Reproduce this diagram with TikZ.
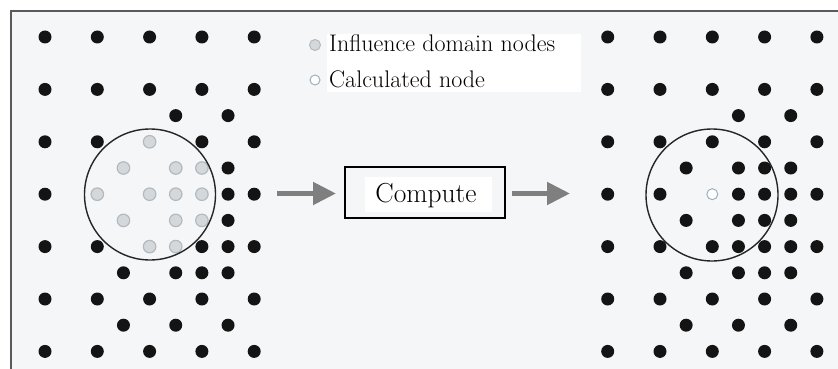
\documentclass[tikz,border=0pt]{standalone}
\usetikzlibrary{arrows.meta}
\definecolor{bgcol}{HTML}{F5F6F8}
\definecolor{framecol}{HTML}{5A5A5A}
\definecolor{dotblack}{HTML}{141414}
\definecolor{grayfill}{HTML}{D4D8DB}
\definecolor{grayedge}{HTML}{B2BAC0}
\definecolor{hollowedge}{HTML}{9DB1BE}
\definecolor{arrowcol}{HTML}{7F7F7F}
\tikzset{
  blackdot/.style={circle,fill=dotblack,draw=none,minimum size=13pt,inner sep=0pt},
  graydot/.style={circle,fill=grayfill,draw=grayedge,line width=1.2pt,minimum size=12.5pt,inner sep=0pt},
  hollowdot/.style={circle,fill=white,draw=hollowedge,line width=1pt,minimum size=11pt,inner sep=0pt},
  domaincircle/.style={circle,draw=black!85,line width=1.4pt,inner sep=0pt},
  flowarrow/.style={draw=arrowcol,line width=5pt,-{Triangle[length=23pt,width=22pt]}},
  computebox/.style={draw=black,line width=2.5pt,minimum width=160pt,minimum height=51pt,inner sep=0pt},
  legendtext/.style={anchor=base west,inner sep=0pt,font=\fontsize{24}{28}\selectfont}
}
\begin{document}
\begin{tikzpicture}[x=1pt,y=-1pt]
\useasboundingbox (0,0) rectangle (838,369);
\fill[white] (0,0) rectangle (838,369);
\fill[bgcol] (11,11) rectangle (838,369);
\draw[framecol,line width=1.8pt] (11,369) -- (11,11) -- (838,11);
% left grid
\foreach \c/\r in {0/0,2/0,4/0,6/0,8/0, 0/2,2/2,4/2,6/2,8/2, 5/3,7/3, 0/4,2/4,6/4,8/4, 7/5, 0/6,7/6,8/6, 7/7, 0/8,2/8,6/8,7/8,8/8, 3/9,5/9,6/9,7/9, 0/10,2/10,4/10,6/10,8/10, 3/11,5/11,7/11, 0/12,2/12,4/12,6/12,8/12}
  \node[blackdot] (L-\c-\r) at ({45+26.15*\c},{37+26.2*\r}) {};
\foreach \c/\r in {4/4, 3/5,5/5,6/5, 2/6,4/6,5/6,6/6, 3/7,5/7,6/7, 4/8,5/8}
  \node[graydot] (L-\c-\r) at ({45+26.15*\c},{37+26.2*\r}) {};
\node[domaincircle,minimum size=131pt] (LC) at (150,194.5) {};
% right grid
\foreach \c/\r in {0/0,2/0,4/0,6/0,8/0, 0/2,2/2,4/2,6/2,8/2, 5/3,7/3, 0/4,2/4,6/4,8/4, 7/5, 0/6,7/6,8/6, 7/7, 0/8,2/8,6/8,7/8,8/8, 3/9,5/9,6/9,7/9, 0/10,2/10,4/10,6/10,8/10, 3/11,5/11,7/11, 0/12,2/12,4/12,6/12,8/12,
  4/4, 3/5,5/5,6/5, 2/6,5/6,6/6, 3/7,5/7,6/7, 4/8,5/8}
  \node[blackdot] (R-\c-\r) at ({607.7+26.15*\c},{37+26.2*\r}) {};
\node[hollowdot] (R-4-6) at ({607.7+26.15*4},{37+26.2*6}) {};
\node[domaincircle,minimum size=132pt] (RC) at (712,195) {};
% legend
\fill[white] (327,34) rectangle (581,92);
\node[graydot,minimum size=11pt,line width=1pt] (lg1) at (315,45) {};
\node[hollowdot,minimum size=10pt] (lg2) at (315,80) {};
\node[legendtext] (lt1) at (329,52) {Influence domain nodes};
\node[legendtext] (lt2) at (329,88) {Calculated node};
% compute
\node[computebox] (comp) at (425,192.5) {};
\fill[white] (365,177) rectangle (492,212);
\node[anchor=base,inner sep=0pt,font=\fontsize{27.5}{32}\selectfont] (ctext) at (426,202) {Compute};
\coordinate (a1s) at (277,193.5);
\coordinate (a1e) at (336,193.5);
\coordinate (a2s) at (512,193.5);
\coordinate (a2e) at (570,193.5);
\draw[flowarrow] (a1s) -- (a1e);
\draw[flowarrow] (a2s) -- (a2e);
\end{tikzpicture}
\end{document}
